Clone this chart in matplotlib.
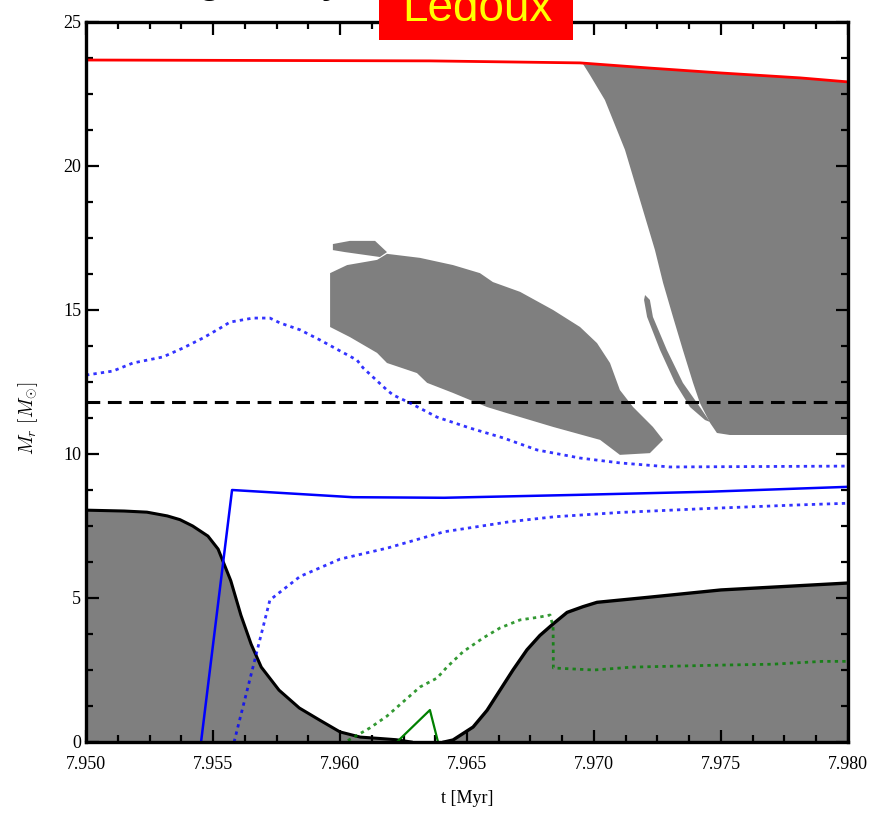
import numpy as np
import matplotlib.pyplot as plt
from matplotlib.patches import Rectangle
from matplotlib.ticker import MultipleLocator, FormatStrFormatter

plt.rcParams.update({"font.family": "serif", "font.serif": ["Liberation Serif"],
                     "mathtext.fontset": "cm", "font.size": 13})

GRAY = '#7f7f7f'

# convective core (left) and its regrowth (right), boundary in M_sun
core_t = [7.9500, 7.9515, 7.9524, 7.9532, 7.9537, 7.9542, 7.9548, 7.9552, 7.9557,
          7.9561, 7.9565, 7.9569, 7.9576, 7.9584, 7.9592, 7.9600, 7.9608, 7.9616,
          7.9622, 7.9628]
core_m = [8.05, 8.02, 7.98, 7.85, 7.72, 7.5, 7.15, 6.7, 5.6,
          4.4, 3.4, 2.6, 1.8, 1.18, 0.76, 0.35, 0.17, 0.12,
          0.08, 0.0]
core2_t = [7.9641, 7.96445, 7.96524, 7.96579, 7.9663, 7.96681, 7.96736, 7.96787,
           7.96839, 7.96894, 7.96957, 7.97012, 7.9722, 7.9750, 7.9800]
core2_m = [0.0, 0.07, 0.52, 1.1, 1.8, 2.5, 3.2, 3.7,
           4.1, 4.5, 4.7, 4.85, 5.03, 5.28, 5.52]

# intermediate convective zone
blob_t = [7.95961, 7.96028, 7.96146, 7.96185, 7.96315, 7.96445, 7.96551, 7.96602,
          7.96709, 7.96839, 7.96945, 7.97012, 7.97063, 7.97102, 7.97154, 7.97232,
          7.97272, 7.9722, 7.97102, 7.97024, 7.96839, 7.96657, 7.96579, 7.96445,
          7.96343, 7.96303, 7.96185, 7.96146, 7.96039, 7.95961]
blob_m = [16.28, 16.56, 16.74, 16.95, 16.81, 16.56, 16.28, 15.97,
          15.63, 15.0, 14.41, 13.85, 13.16, 12.22, 11.63, 10.94,
          10.49, 10.03, 9.97, 10.49, 10.94, 11.42, 11.63, 12.12,
          12.47, 12.81, 13.16, 13.51, 14.06, 14.41]
ear_t = [7.95972, 7.96039, 7.96138, 7.96185, 7.96157, 7.9602, 7.95972]
ear_m = [17.29, 17.4, 17.4, 17.01, 16.84, 17.01, 17.08]

# thin convective shell
sliver_t = [7.97201, 7.97197, 7.97209, 7.9726, 7.97319, 7.97378, 7.97437, 7.97457,
            7.97417, 7.9735, 7.97287, 7.97232, 7.9722]
sliver_m = [15.52, 15.35, 14.76, 13.61, 12.47, 11.63, 11.18, 11.11,
            11.63, 12.47, 13.61, 14.76, 15.35]

# convective envelope
env_t = [7.96957, 7.9722, 7.9750, 7.97811, 7.9800, 7.9800, 7.97535, 7.97484,
         7.97457, 7.97417, 7.9739, 7.9735, 7.97311, 7.97272, 7.9724, 7.97181,
         7.97122, 7.97043, 7.96984]
env_m = [23.54, 23.4, 23.23, 23.06, 22.92, 10.66, 10.66, 10.73,
         11.08, 11.77, 12.47, 13.61, 14.76, 15.94, 17.08, 18.82,
         20.56, 22.29, 23.16]

# total mass
mtot_t = [7.950, 7.96354, 7.96945, 7.9722, 7.975, 7.97811, 7.980]
mtot_m = [23.68, 23.65, 23.58, 23.4, 23.23, 23.06, 22.92]

# H-burning shell (solid) and its bounds (dotted)
hsh_t = [7.95453, 7.95575, 7.9605, 7.9641, 7.9693, 7.9745, 7.9800]
hsh_m = [0.0, 8.75, 8.5, 8.48, 8.58, 8.69, 8.86]
hup_t = [7.950, 7.95106, 7.95185, 7.95303, 7.95382, 7.95461, 7.95528, 7.95567,
         7.95657, 7.95724, 7.95764, 7.95843, 7.95921, 7.960, 7.96067, 7.96091,
         7.9613, 7.96185, 7.96209, 7.96276, 7.96382, 7.96512, 7.96642, 7.96776,
         7.96945, 7.97102, 7.97299, 7.980]
hup_m = [12.74, 12.88, 13.16, 13.37, 13.68, 14.03, 14.37, 14.58,
         14.72, 14.72, 14.55, 14.31, 13.96, 13.58, 13.26, 12.99,
         12.67, 12.22, 12.05, 11.77, 11.28, 10.9, 10.56, 10.14,
         9.86, 9.69, 9.55, 9.58]
hlo_t = [7.95583, 7.95724, 7.95843, 7.960, 7.96189, 7.9641, 7.96669, 7.96843,
         7.97102, 7.97453, 7.97799, 7.980]
hlo_m = [0.0, 4.93, 5.75, 6.35, 6.74, 7.3, 7.65, 7.82,
         7.97, 8.11, 8.23, 8.29]

# He-burning shell (solid) and its bounds (dotted)
hesh_t = [7.96224, 7.96354, 7.96386]
hesh_m = [0.0, 1.11, 0.0]
he_t = [7.96031, 7.96118, 7.96185, 7.96248, 7.96315, 7.96382, 7.96421, 7.96484,
        7.96563, 7.9663, 7.96709, 7.96787, 7.96827, 7.96839, 7.9684, 7.9700,
        7.9715, 7.9750, 7.9770, 7.9790, 7.9800]
he_m = [0.05, 0.49, 0.9, 1.39, 1.91, 2.22, 2.6, 3.13,
        3.61, 3.96, 4.24, 4.34, 4.41, 4.0, 2.57, 2.5,
        2.6, 2.67, 2.7, 2.8, 2.8]

m_dash = 11.8

fig = plt.figure(figsize=(8.71, 8.26), dpi=100)
ax = fig.add_axes([86/871, 84/826, 762/871, 720/826])

ax.fill_between(core_t, 0, core_m, color=GRAY, lw=0)
ax.fill_between(core2_t, 0, core2_m, color=GRAY, lw=0)
ax.fill(blob_t, blob_m, color=GRAY, lw=0)
ax.fill(ear_t, ear_m, color=GRAY, lw=0)
ax.fill(sliver_t, sliver_m, color=GRAY, lw=0)
ax.fill(env_t, env_m, color=GRAY, lw=0)

ax.plot(core_t, core_m, color='k', lw=2.2)
ax.plot(core2_t, core2_m, color='k', lw=2.4)

ax.plot(mtot_t, mtot_m, color='red', lw=2)
ax.axhline(m_dash, color='k', lw=2.2, ls=(0, (4.5, 2.5)))

ax.plot(hsh_t, hsh_m, color='blue', lw=1.8)
ax.plot(hup_t, hup_m, color='blue', lw=2, ls=(0, (1.2, 1.5)), alpha=0.8)
ax.plot(hlo_t, hlo_m, color='blue', lw=2, ls=(0, (1.2, 1.5)), alpha=0.8)

ax.plot(hesh_t, hesh_m, color='green', lw=1.6)
ax.plot(he_t, he_m, color='green', lw=2, ls=(0, (1.2, 1.5)), alpha=0.8)

ax.set_xlim(7.950, 7.980)
ax.set_ylim(0, 25)
ax.xaxis.set_major_locator(MultipleLocator(0.005))
ax.xaxis.set_minor_locator(MultipleLocator(0.00125))
ax.xaxis.set_major_formatter(FormatStrFormatter('%.3f'))
ax.yaxis.set_major_locator(MultipleLocator(5))
ax.yaxis.set_minor_locator(MultipleLocator(1.25))
ax.tick_params(which='both', direction='in', top=True, right=True, width=1.6)
ax.tick_params(which='major', length=9, labelsize=13, colors='k')
ax.tick_params(axis='x', which='major', pad=10)
ax.tick_params(which='minor', length=5)
for s in ax.spines.values():
    s.set_linewidth(2.4)

ax.set_xlabel('t [Myr]', fontsize=13, labelpad=12)
ax.set_ylabel(r'$M_r\ [M_{\odot}]$', fontsize=14)
ax.yaxis.set_label_coords(-0.06, 0.45)

fig.text(-50/871, 1 + 9/826, 'Overshooting study', family='Liberation Sans',
         fontsize=33, va='baseline', ha='left', color='k')
fig.add_artist(Rectangle((379/871, 786/826), 194/871, 60/826, transform=fig.transFigure,
                         facecolor='red', edgecolor='none'))
fig.text(477/871, 1 - 21/826, 'Ledoux', family='Liberation Sans', fontsize=33,
         va='baseline', ha='center', color='yellow')

fig.savefig('out.png', dpi=100)
